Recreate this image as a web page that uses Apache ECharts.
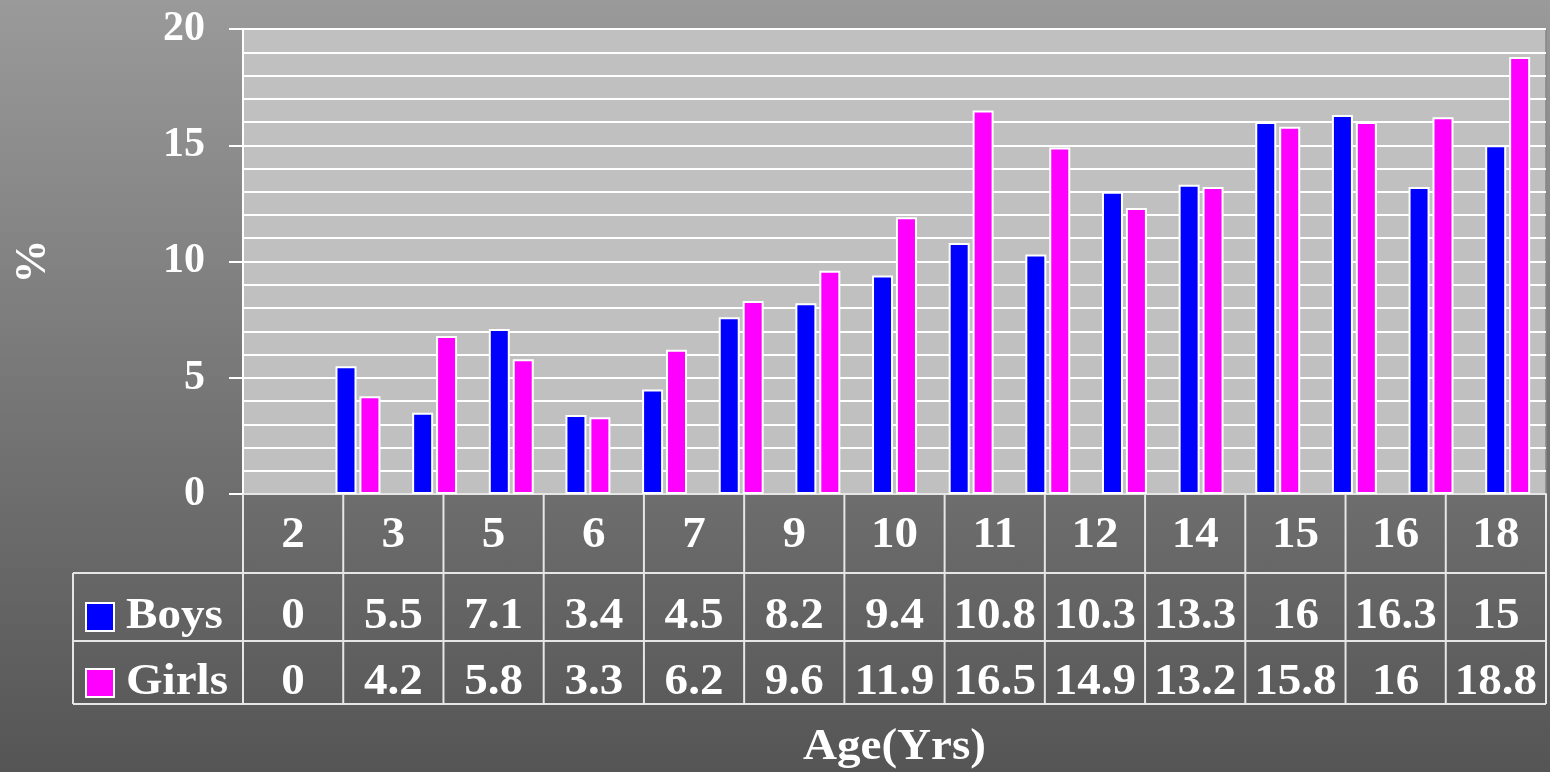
<!DOCTYPE html>
<html>
<head>
<meta charset="utf-8">
<script src="https://cdn.jsdelivr.net/npm/echarts@6/dist/echarts.min.js"></script>
<style>
  html, body { margin: 0; padding: 0; width: 1550px; height: 772px; overflow: hidden; }
  body { background: linear-gradient(to bottom, #9a9a9a 0%, #777777 50%, #555555 100%); }
  #chart { width: 1550px; height: 772px; }
</style>
</head>
<body>
<div id="chart"></div>
<script>
// Bar groups plotted along the horizontal axis
const barSlots = ['1', '2', '3', '4', '5', '6', '7', '8', '9', '10', '11', '12', '13', '14', '15', '16', '17'];
const boysBars  = [0, 5.5, 3.5, 7.1, 3.4, 4.5, 7.6, 8.2, 9.4, 10.8, 10.3, 13.0, 13.3, 16, 16.3, 13.2, 15];
const girlsBars = [0, 4.2, 6.8, 5.8, 3.3, 6.2, 8.3, 9.6, 11.9, 16.5, 14.9, 12.3, 13.2, 15.8, 16, 16.2, 18.8];

// Data table under the plot
const tableAges  = ['2', '3', '5', '6', '7', '9', '10', '11', '12', '14', '15', '16', '18'];
const tableBoys  = ['0', '5.5', '7.1', '3.4', '4.5', '8.2', '9.4', '10.8', '10.3', '13.3', '16', '16.3', '15'];
const tableGirls = ['0', '4.2', '5.8', '3.3', '6.2', '9.6', '11.9', '16.5', '14.9', '13.2', '15.8', '16', '18.8'];
const seriesNames = ['Boys', 'Girls'];
const seriesColors = ['#0000ff', '#ff00ff'];

// Value axis
const yMin = 0, yMax = 20, yStep = 5;

const FONT = '"Liberation Serif", "Times New Roman", serif';
const plot = { left: 243, top: 29, right: 1546, bottom: 494 };
const table = { left: 73, rows: [494, 573, 641, 704], textY: [536, 617, 683] };
const lineColor = '#e6e6e6';
const TEXT_SIZE = 44;
const TEXT_STRETCH = 1.07;

function buildTable() {
  const g = [];
  const cols = tableAges.length;
  const colW = (plot.right - plot.left) / cols;
  const line = (x1, y1, x2, y2) => g.push({
    type: 'line', silent: true, z: 10,
    shape: { x1, y1, x2, y2 },
    style: { stroke: lineColor, lineWidth: 2 }
  });
  const text = (x, y, t, align) => g.push({
    type: 'text', silent: true, z: 11,
    x, y, scaleX: TEXT_STRETCH,
    style: {
      x: 0, y: 0, text: t, align: align || 'center', verticalAlign: 'middle',
      fill: '#ffffff', font: 'bold ' + TEXT_SIZE + 'px ' + FONT
    }
  });
  const r = table.rows;
  // horizontal rules
  line(table.left, r[1], plot.right, r[1]);
  line(table.left, r[2], plot.right, r[2]);
  line(table.left, r[3], plot.right, r[3]);
  // vertical rules
  for (let i = 0; i <= cols; i++) {
    const x = plot.left + i * colW;
    line(x, r[0], x, r[3]);
  }
  line(table.left, r[1], table.left, r[3]);
  // cells
  const rowsData = [tableAges, tableBoys, tableGirls];
  rowsData.forEach((row, ri) => {
    row.forEach((v, ci) => text(plot.left + (ci + 0.5) * colW, table.textY[ri], v));
  });
  // legend keys
  [1, 2].forEach((ri, k) => {
    g.push({
      type: 'rect', silent: true, z: 11,
      shape: { x: 86, y: table.textY[ri] - 14, width: 28, height: 28 },
      style: { fill: seriesColors[k], stroke: '#ffffff', lineWidth: 2 }
    });
    text(126, table.textY[ri], seriesNames[k], 'left');
  });
  // axis title under the table
  text((plot.left + plot.right) / 2, 748, 'Age(Yrs)');
  return g;
}

const chart = echarts.init(document.getElementById('chart'), null, { renderer: 'canvas' });

// zero-height bars get no outline
const barData = (arr) => arr.map(v => v === 0 ? { value: v, itemStyle: { borderWidth: 0 } } : v);
const barStyle = (c) => ({ color: c, borderColor: '#ffffff', borderWidth: 2 });

chart.setOption({
  backgroundColor: 'transparent',
  animation: false,
  grid: {
    left: plot.left, top: plot.top,
    width: plot.right - plot.left, height: plot.bottom - plot.top,
    show: true, backgroundColor: '#c0c0c0', borderColor: '#868686', borderWidth: 1.5
  },
  xAxis: {
    type: 'category',
    data: barSlots,
    axisLine: { show: true, lineStyle: { color: lineColor, width: 2 } },
    axisTick: { show: false },
    axisLabel: { show: false },
    splitLine: { show: false }
  },
  yAxis: {
    type: 'value',
    min: yMin, max: yMax, interval: yStep,
    name: '%',
    nameLocation: 'middle',
    nameRotate: 90,
    nameGap: 187,
    nameTextStyle: { color: '#ffffff', fontFamily: FONT, fontWeight: 'bold', fontSize: 44 },
    axisLine: { show: true, lineStyle: { color: '#ffffff', width: 2 } },
    axisTick: { show: true, inside: false, length: 14, lineStyle: { color: '#ffffff', width: 2 } },
    axisLabel: { color: '#ffffff', fontFamily: FONT, fontWeight: 'bold', fontSize: 42, margin: 38 },
    splitLine: { show: true, lineStyle: { color: '#ffffff', width: 2 } },
    minorTick: { show: false, splitNumber: 5 },
    minorSplitLine: { show: true, lineStyle: { color: '#ffffff', width: 2 } }
  },
  series: [
    {
      name: seriesNames[0], type: 'bar', data: barData(boysBars),
      barWidth: 21, barGap: '14%', itemStyle: barStyle(seriesColors[0])
    },
    {
      name: seriesNames[1], type: 'bar', data: barData(girlsBars),
      barWidth: 21, barGap: '14%', itemStyle: barStyle(seriesColors[1])
    }
  ],
  graphic: buildTable()
});
</script>
</body>
</html>
